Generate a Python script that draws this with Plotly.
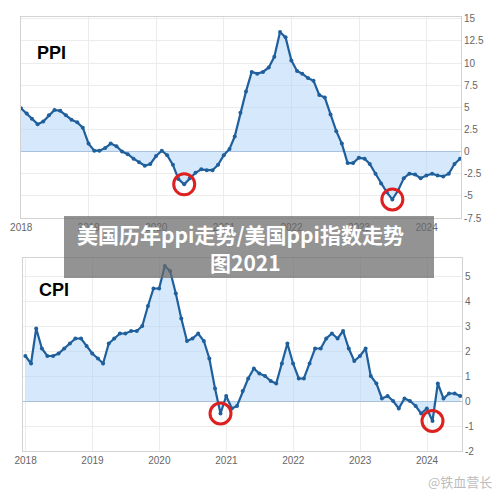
import pandas as pd
import plotly.graph_objects as go

# Monthly YoY, Dec 2017 .. Jun 2024 (plotted at month end)
PPI = [
    4.9,
    4.3, 3.7, 3.1, 3.4, 4.1, 4.7, 4.6, 4.1, 3.6, 3.3, 2.7, 0.9,
    0.1, 0.1, 0.4, 0.9, 0.6, 0.0, -0.3, -0.8, -1.2, -1.6, -1.4, -0.5,
    0.1, -0.4, -1.5, -3.1, -3.7, -3.0, -2.4, -2.0, -2.1, -2.1, -1.5, -0.4,
    0.3, 1.7, 4.4, 6.8, 9.0, 8.8, 9.0, 9.5, 10.7, 13.5, 12.9, 10.3,
    9.1, 8.8, 8.3, 8.0, 6.4, 6.1, 4.2, 2.3, 0.9, -1.3, -1.3, -0.7,
    -0.8, -1.4, -2.5, -3.6, -4.6, -5.4, -4.4, -3.0, -2.5, -2.6, -3.0, -2.7,
    -2.5, -2.7, -2.8, -2.5, -1.4, -0.8,
]
CPI = [
    1.8,
    1.5, 2.9, 2.1, 1.8, 1.8, 1.9, 2.1, 2.3, 2.5, 2.5, 2.2, 1.9,
    1.7, 1.5, 2.3, 2.5, 2.7, 2.7, 2.8, 2.8, 3.0, 3.8, 4.5, 4.5,
    5.4, 5.2, 4.3, 3.3, 2.4, 2.5, 2.7, 2.4, 1.7, 0.5, -0.5, 0.2,
    -0.3, -0.2, 0.4, 0.9, 1.3, 1.1, 1.0, 0.8, 0.7, 1.5, 2.3, 1.5,
    0.9, 0.9, 1.5, 2.1, 2.1, 2.5, 2.7, 2.5, 2.8, 2.1, 1.6, 1.8,
    2.1, 1.0, 0.7, 0.1, 0.2, 0.0, -0.3, 0.1, 0.0, -0.2, -0.5, -0.3,
    -0.8, 0.7, 0.1, 0.3, 0.3, 0.2,
]
MONTHS = pd.date_range("2017-12-31", periods=len(PPI), freq="ME")

# lows that are circled in red
PPI_CIRCLED = ["2020-05", "2023-06"]
CPI_CIRCLED = ["2020-11", "2024-01"]

YEAR_TICKS = [f"{y}-01-01" for y in range(2018, 2025)]
YEAR_LABELS = [str(y) for y in range(2018, 2025)]
PPI_TICKS = [15, 12.5, 10, 7.5, 5, 2.5, 0, -2.5, -5, -7.5]
CPI_TICKS = [5, 4, 3, 2, 1, 0, -1, -2]

TITLE_1 = "美国历年ppi走势/美国ppi指数走势"
TITLE_2 = "图2021"

LINE = "#1f5f9c"
FILL = "rgba(173,210,247,0.5)"
RED = "#dd2020"
W, H = 500, 495


def px(x):
    return x / W


def py(y):
    return 1 - y / H


def circled(values, keys):
    lookup = {d.strftime("%Y-%m"): (d, v) for d, v in zip(MONTHS, values)}
    pts = [lookup[k] for k in keys]
    return [p[0] for p in pts], [p[1] for p in pts]


fig = go.Figure()

for vals, keys, xa, ya in ((PPI, PPI_CIRCLED, "x", "y"), (CPI, CPI_CIRCLED, "x2", "y2")):
    fig.add_trace(go.Scatter(
        x=MONTHS, y=vals, mode="lines+markers",
        line=dict(color=LINE, width=2.2),
        marker=dict(color=LINE, size=4),
        fill="tozeroy", fillcolor=FILL,
        xaxis=xa, yaxis=ya, showlegend=False,
    ))
    cx, cy = circled(vals, keys)
    fig.add_trace(go.Scatter(
        x=cx, y=cy, mode="markers",
        marker=dict(symbol="circle-open", size=21, color=RED, line=dict(color=RED, width=3)),
        xaxis=xa, yaxis=ya, showlegend=False,
    ))

tick_font = dict(family="Liberation Sans, Arial, sans-serif", size=10, color="#666")
grid = dict(showgrid=True, gridcolor="#ececec", showline=True, mirror=True,
            linecolor="#d2d2d2", linewidth=1, ticks="", tickfont=tick_font,
            automargin=False, fixedrange=True)


def fmt(v):
    return f"{v:g}"


fig.update_layout(
    width=W, height=H,
    margin=dict(l=0, r=0, t=0, b=0),
    paper_bgcolor="white", plot_bgcolor="white",
    xaxis=dict(domain=[px(21), px(461)], type="date",
               range=["2017-12-31", "2024-07-05"],
               tickvals=YEAR_TICKS, ticktext=YEAR_LABELS, anchor="y", **grid),
    yaxis=dict(domain=[py(218), py(17)], range=[-7.5, 15.2], side="right",
               tickvals=PPI_TICKS, ticktext=[fmt(v) for v in PPI_TICKS],
               zeroline=True, zerolinecolor="#a9bfd6", zerolinewidth=1,
               anchor="x", **grid),
    xaxis2=dict(domain=[px(23), px(462)], type="date",
                range=["2017-12-18", "2024-07-10"],
                tickvals=YEAR_TICKS, ticktext=YEAR_LABELS, anchor="y2", **grid),
    yaxis2=dict(domain=[py(451), py(258)], range=[-2, 5.72], side="right",
                tickvals=CPI_TICKS, ticktext=[fmt(v) for v in CPI_TICKS],
                zeroline=True, zerolinecolor="#a9bfd6", zerolinewidth=1,
                anchor="x2", **grid),
)

label_font = dict(family="Liberation Sans, Arial, sans-serif", size=18, color="black")
fig.add_annotation(text="<b>PPI</b>", xref="paper", yref="paper", x=px(35), y=py(53),
                   xanchor="left", yanchor="middle", showarrow=False, font=label_font)
fig.add_annotation(text="<b>CPI</b>", xref="paper", yref="paper", x=px(37), y=py(290),
                   xanchor="left", yanchor="middle", showarrow=False, font=label_font)

# grey title banner laid over the two charts
fig.add_shape(type="rect", xref="paper", yref="paper",
              x0=px(64), x1=px(434), y0=py(278), y1=py(216),
              fillcolor="rgba(105,105,105,0.72)", line=dict(width=0), layer="above")
banner_font = dict(family="Noto Sans CJK SC", size=21, color="white")
fig.add_annotation(text=f"<b>{TITLE_1}</b>", xref="paper", yref="paper", x=px(240), y=py(234),
                   xanchor="center", yanchor="middle", showarrow=False, font=banner_font)
fig.add_annotation(text=f"<b>{TITLE_2}</b>", xref="paper", yref="paper", x=px(245), y=py(262),
                   xanchor="center", yanchor="middle", showarrow=False, font=banner_font)

# watermark
fig.add_annotation(text="@铁血营长", xref="paper", yref="paper", x=px(494), y=py(481),
                   xanchor="right", yanchor="middle", showarrow=False,
                   font=dict(family="Noto Sans CJK SC", size=13, color="rgba(170,170,170,0.8)"))

# page body has a default 8px margin; drop it so the figure fills the window
fig.write_html("out.html", config={"displayModeBar": False},
               post_script="document.body.style.margin='0';")
